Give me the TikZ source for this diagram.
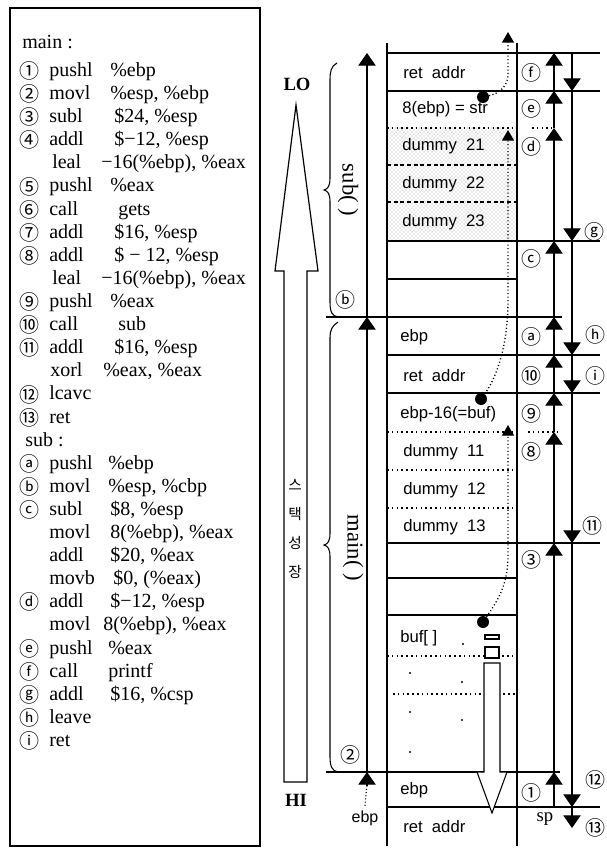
\documentclass[tikz,border=0pt]{standalone}
\usepackage{fontspec}
\setmainfont{Liberation Serif}
\newfontfamily\sa{Liberation Sans}
\newfontfamily\kr{Noto Sans CJK KR}
\usetikzlibrary{arrows.meta,patterns}
\newcommand\crow[5]{%
  \node[cn] (c#1) at (29,{71+(#1-1)*23.1}) {#2};
  \node[lst] (m#1) at (49,{76.5+(#1-1)*23.1}) {#3};
  \node[lst] (o#1) at (#5,{76.5+(#1-1)*23.1}) {#4};}
\newcommand\prow[5]{%
  \node[lst] (m#1) at (#2,{76.5+(#1-1)*23.1}) {#3};
  \node[lst] (o#1) at (#5,{76.5+(#1-1)*23.1}) {#4};}
\begin{document}
\begin{tikzpicture}[x=0.75pt,y=-0.75pt,
  lst/.style={anchor=base west,inner sep=0,font=\fontsize{15}{18}\selectfont},
  cn/.style={inner sep=0,font=\kr\fontsize{15}{17}\selectfont},
  cell/.style={anchor=west,inner sep=0,font=\sa\fontsize{12.5}{15}\selectfont},
  ln/.style={line width=0.9pt},
  hv/.style={line width=1.8pt},
  dl/.style={line width=0.9pt,dash pattern=on 1.2pt off 2.4pt},
  dsh/.style={line width=0.9pt,dash pattern=on 3pt off 2pt},
  up/.style={line width=0.8pt,-{Triangle[width=13pt,length=9.5pt]}},
  ptr/.style={line width=1pt,dash pattern=on 0.8pt off 1.8pt,-{Triangle[width=9pt,length=8pt]}},
  dot/.style={circle,fill,inner sep=0,minimum size=9pt}]
\useasboundingbox (0,0) rectangle (606,848);

% ---------- listing ----------
\draw[ln] (10,8) rectangle (260,846);
\node[lst] (hmain) at (22,49) {main :};
\crow{1}{①}{pushl}{\%ebp}{110}
\crow{2}{②}{movl}{\%esp, \%ebp}{110}
\crow{3}{③}{subl}{\$24, \%esp}{114}
\crow{4}{④}{addl}{\$−12, \%esp}{114}
\prow{5}{52}{leal}{−16(\%ebp), \%eax}{101}
\crow{6}{⑤}{pushl}{\%eax}{110}
\crow{7}{⑥}{call}{gets}{118}
\crow{8}{⑦}{addl}{\$16, \%esp}{114}
\crow{9}{⑧}{addl}{\$ − 12, \%esp}{114}
\prow{10}{52}{leal}{−16(\%ebp), \%eax}{101}
\crow{11}{⑨}{pushl}{\%eax}{110}
\crow{12}{⑩}{call}{sub}{118}
\crow{13}{⑪}{addl}{\$16, \%esp}{114}
\prow{14}{50}{xorl}{\%eax, \%eax}{103}
\crow{15}{⑫}{lcavc}{}{110}
\crow{16}{⑬}{ret}{}{110}
\node[lst] (hsub) at (25,{76.5+16*23.1}) {sub :};
\crow{18}{ⓐ}{pushl}{\%ebp}{108}
\crow{19}{ⓑ}{movl}{\%esp, \%cbp}{108}
\crow{20}{ⓒ}{subl}{\$8, \%esp}{110}
\prow{21}{49}{movl}{8(\%ebp), \%eax}{110}
\prow{22}{49}{addl}{\$20, \%eax}{110}
\prow{23}{49}{movb}{\$0, (\%eax)}{113}
\crow{24}{ⓓ}{addl}{\$−12, \%esp}{110}
\prow{25}{49}{movl}{8(\%ebp), \%eax}{103}
\crow{26}{ⓔ}{pushl}{\%eax}{108}
\crow{27}{ⓕ}{call}{printf}{108}
\crow{28}{ⓖ}{addl}{\$16, \%csp}{110}
\crow{29}{ⓗ}{leave}{}{110}
\crow{30}{ⓘ}{ret}{}{110}

% ---------- growth arrow ----------
\draw[ln,fill=white] (284,782) -- (284,271) -- (275,271) -- (296,105) -- (318,271) -- (307,271) -- (307,782) -- cycle;
\node[font=\bfseries\fontsize{14}{16}\selectfont] (lo) at (297,84) {LO};
\node[font=\bfseries\fontsize{14}{16}\selectfont] (hi) at (296,800) {HI};
\node[font=\kr\fontsize{11}{13}\selectfont] (k1) at (295,485) {스};
\node[font=\kr\fontsize{11}{13}\selectfont] (k2) at (295,514) {택};
\node[font=\kr\fontsize{11}{13}\selectfont] (k3) at (295,543) {성};
\node[font=\kr\fontsize{11}{13}\selectfont] (k4) at (295,572) {장};

% ---------- braces ----------
\draw[line width=0.8pt] (337,63) .. controls (331,66) and (330,72) .. (330,80) -- (330,178)
  .. controls (330,186) and (328,189) .. (324,190) .. controls (328,191) and (330,194) .. (330,202)
  -- (330,302) .. controls (330,312) and (332,316) .. (338,317);
\draw[line width=0.8pt] (338,322) .. controls (332,326) and (330,330) .. (330,338) -- (330,533)
  .. controls (330,541) and (328,544) .. (324,545) .. controls (328,546) and (330,549) .. (330,557)
  -- (330,757) .. controls (330,766) and (332,771) .. (338,772);
\node[rotate=-90,font=\fontsize{17}{19}\selectfont] (lsub) at (348,190) {sub( )};
\node[rotate=-90,font=\fontsize{17}{19}\selectfont] (lmain) at (353,548) {main( )};
\node[cn] (lb) at (345,300) {ⓑ};
\node[cn] (l2) at (350,755) {②};

% ---------- ebp arrows ----------
\draw[up] (367,317) -- (367,53);
\draw[up] (367,772) -- (367,317);
\node[font=\sa\fontsize{12}{14}\selectfont] (ebpl) at (365,818) {ebp};
\draw[line width=0.8pt,dash pattern=on 0.8pt off 1.6pt] (ebpl.north) -- (367,784);
\draw[up] (367,786) -- (367,772);

% ---------- stack ----------
\fill[pattern=crosshatch dots,pattern color=gray!70] (387,128) rectangle (516,241);
\draw[ln] (387,43) -- (387,846);
\draw[ln] (517,43) -- (517,846);
\draw[hv] (387,53) -- (600,53);
\draw[hv] (387,91) -- (600,91);
\draw[dl] (387,128) -- (517,128);
\draw[dl] (532,128) -- (552,128);
\draw[dsh] (387,165) -- (517,165);
\draw[dsh] (387,202) -- (517,202);
\draw[ln] (387,241) -- (600,241);
\draw[ln] (387,279) -- (517,279);
\draw[ln] (326,317) -- (562,317);
\draw[ln] (387,355) -- (600,355);
\draw[ln] (387,393) -- (600,393);
\draw[dl] (387,432) -- (517,432);
\draw[dl] (528,432) -- (560,432);
\draw[dl] (387,470) -- (517,470);
\draw[dl] (387,508) -- (517,508);
\draw[ln] (387,543) -- (600,543);
\draw[ln] (387,578) -- (517,578);
\draw[ln] (387,615) -- (517,615);
\draw[dl] (387,656) -- (517,656);
\draw[dl] (393,694) -- (517,694);
\draw[ln] (326,772) -- (560,772);
\draw[line width=1.3pt] (387,807) -- (600,807);

% cell texts
\node[cell] (s1) at (403,73) {ret~~addr};
\node[cell] (s2) at (402,109) {8(ebp) = str};
\node[cell] (s3) at (402,146) {dummy~~21};
\node[cell] (s4) at (402,184) {dummy~~22};
\node[cell] (s5) at (402,222) {dummy~~23};
\node[cell] (s6) at (400,337) {ebp};
\node[cell] (s7) at (403,376) {ret~~addr};
\node[cell] (s8) at (400,414) {ebp-16(=buf)};
\node[cell] (s9) at (403,452) {dummy~~11};
\node[cell] (s10) at (403,490) {dummy~~12};
\node[cell] (s11) at (403,527) {dummy~~13};
\node[cell] (s12) at (400,638) {buf[ ]};
\node[cell] (s13) at (400,790) {ebp};
\node[cell] (s14) at (403,827) {ret~~addr};
\foreach \p in {(410,673),(410,712),(410,752),(463,644),(462,682),(462,720)} \fill \p circle (1.1);

% pointers
\node[dot] (d1) at (483,97) {};
\node[dot] (d2) at (481,399) {};
\node[dot] (d3) at (483,622) {};
\draw[ptr] (d1) .. controls (497,94) and (507,88) .. (508,76) -- (508,32);
\draw[ptr] (d2) .. controls (497,377) and (508,345) .. (508,300) -- (508,130);
\draw[ptr] (d3) .. controls (498,600) and (508,585) .. (508,555) -- (508,425);

% buf hollow arrow
\draw[line width=0.8pt,fill=white] (485,635) rectangle (499,639);
\draw[line width=0.8pt,fill=white] (485,647) rectangle (499,658);
\draw[line width=0.8pt,fill=white] (484,663) -- (484,772) -- (477,772) -- (492,813) -- (507,772) -- (500,772) -- (500,663) -- cycle;

% up arrows (sp moves up)
\draw[up] (554,91) -- (554,53);
\draw[up] (554,128) -- (554,91);
\draw[up] (554,241) -- (554,128);
\draw[up] (554,317) -- (554,241);
\draw[up] (554,355) -- (554,317);
\draw[up] (554,393) -- (554,355);
\draw[up] (554,432) -- (554,393);
\draw[up] (554,543) -- (554,432);
\draw[up] (554,772) -- (554,543);
\draw[up] (554,807) -- (554,772);
% down arrows
\draw[up] (572,53) -- (572,91);
\draw[up] (572,91) -- (572,241);
\draw[up] (572,241) -- (572,355);
\draw[up] (572,355) -- (572,393);
\draw[up] (572,393) -- (572,543);
\draw[up] (572,543) -- (572,807);
\draw[up] (572,807) -- (572,828);

% labels
\node[cn] (rf) at (531,73) {ⓕ};
\node[cn] (re) at (531,109) {ⓔ};
\node[cn] (rd) at (531,147) {ⓓ};
\node[cn] (rc) at (531,259) {ⓒ};
\node[cn] (ra) at (531,337) {ⓐ};
\node[cn] (r10) at (531,376) {⑩};
\node[cn] (r9) at (531,414) {⑨};
\node[cn] (r8) at (531,452) {⑧};
\node[cn] (r3) at (531,560) {③};
\node[cn] (r1) at (531,793) {①};
\node[cn] (rg) at (594,232) {ⓖ};
\node[cn] (rh) at (595,335) {ⓗ};
\node[cn] (ri) at (595,376) {ⓘ};
\node[cn] (r11) at (592,526) {⑪};
\node[cn] (r12) at (595,780) {⑫};
\node[cn] (r13) at (595,828) {⑬};
\node[font=\fontsize{14}{16}\selectfont] (sp) at (545,819) {sp};
\end{tikzpicture}
\end{document}
